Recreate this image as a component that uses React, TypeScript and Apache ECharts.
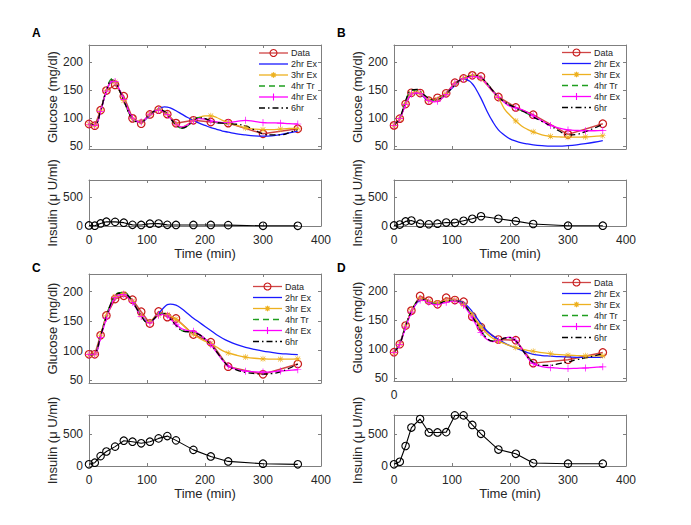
import React, { useEffect, useRef } from 'react';
import * as echarts from 'echarts';

const FONT = '"Liberation Sans", Arial, Helvetica, sans-serif';

// sample times (min)
const tData = [0, 10, 20, 30, 45, 60, 75, 90, 105, 120, 135, 150, 180, 210, 240, 300, 360];
const tModel = [0, 10, 20, 30, 40, 45, 50, 60, 70, 75, 80, 90, 100, 105, 110, 120, 130, 135, 140, 150, 160, 170, 180, 190, 200, 210, 220, 230, 240, 255, 270, 285, 300, 315, 330, 345, 360];
const markerTimes = [0, 10, 20, 30, 45, 60, 75, 90, 105, 120, 135, 150, 180, 210, 240, 270, 300, 330, 360];
const glucoseTicks = [50, 100, 150, 200];
const insulinTicks = [0, 500];
const legendNames = ['Data', '2hr Ex', '3hr Ex', '4hr Tr', '4hr Ex', '6hr'];

// Panel A
const gluA = [89.5, 86.5, 114, 149, 159, 139, 99.5, 90, 106.5, 115, 107, 91, 96, 93, 91, 72, 81];
const insA = [10, 5, 45, 75, 72, 58, 20, 18, 40, 42, 20, 18, 18, 18, 15, 3, 3];
const a2hr = [89, 87, 112, 148, 165, 164, 155, 132, 108, 100, 95, 93, 100, 105, 110, 117, 120, 119.5, 118, 113, 107, 101, 96, 91, 87, 83, 80, 77, 75, 72, 70, 68.5, 68, 68.5, 70.5, 73.5, 77];
const a3hr = [89, 87, 113, 149, 166, 164, 154, 131, 107, 99, 95, 93, 102, 107, 111, 115, 112, 107, 101, 89, 84, 89, 96, 101, 104, 104, 101, 96, 92, 87, 82.5, 80.5, 79.5, 79.5, 80.5, 81.5, 82];
const a4tr = [89, 88, 113, 150, 170, 167, 156, 131, 106, 98, 94, 93, 102, 107, 111, 115, 112, 107, 100, 88, 82, 86, 96, 101, 99, 95, 92, 91, 90];
const a4ex = [89, 87, 112, 148, 166, 165, 156, 133, 108, 100, 95, 93, 102, 107, 111, 114, 111, 106, 100, 89, 84, 88, 95, 99, 98, 95, 93, 92, 92, 94, 96, 94, 92, 91.5, 91, 90, 89.5];
const a6hr = [89, 88, 113, 150, 168, 165, 155, 131, 106, 98, 94, 93, 102, 107, 111, 115, 112, 107, 100, 88, 82, 86, 96, 101, 99, 95, 92, 91, 90, 89, 86, 79, 72, 70, 70, 74, 80];

// Panel B
const gluB = [87, 99, 125, 145, 144.5, 131, 136, 144, 163, 170.5, 176, 174, 137.5, 119, 106, 71, 90];
const insB = [10, 25, 80, 95, 40, 30, 40, 60, 55, 90, 125, 170, 125, 85, 35, 5, 5];
const b2hr = [87, 99, 126, 143, 145, 143, 139, 131, 131, 133, 136, 143, 153, 158, 164, 170, 166, 161, 154, 135, 113, 94, 79, 70, 63, 59, 56, 54, 52.5, 51, 50, 50, 51, 52.5, 54.5, 57, 60];
const b3hr = [87, 99, 126, 144, 146, 144, 140, 132, 131, 133, 136, 143, 155, 161, 165, 171, 175, 175.5, 175, 170, 159, 147, 136, 117, 105, 95, 86, 80, 75.5, 70, 67.5, 66.5, 66, 66, 66.5, 67.5, 68.5];
const b4tr = [87, 100, 130, 149, 150, 147, 142, 134, 131, 132, 134, 143, 154, 160, 165, 171, 175, 176, 176, 172, 162, 149, 137, 129, 123, 118, 113, 108, 102];
const b4ex = [87, 99, 124, 143, 145, 144, 140, 131, 129, 130, 133, 142, 156, 162, 166, 170, 173, 174, 174, 171, 160, 148, 137, 128, 121, 118, 115, 110, 104, 95, 87, 82, 79, 78, 77.5, 77.5, 78];
const b6hr = [87, 100, 131, 150, 151, 148, 143, 135, 132, 133, 135, 143, 154, 160, 165, 171, 175, 176, 176, 172, 162, 149, 137, 129, 123, 118, 113, 108, 102, 94, 86, 77, 70, 71, 76, 82, 89];

// Panel C
const gluC = [93.75, 93.75, 126, 159.7, 187.5, 193, 186.4, 166, 146, 166.5, 156.8, 154.5, 127.3, 114.2, 72.7, 59.7, 77.3];
const insC = [26, 52, 155, 227, 304, 397, 381, 356, 381, 433, 469, 402, 253, 150, 72, 36, 26];
const c2hr = [93, 94, 125, 160, 185, 192, 196, 197, 190, 184, 176, 160, 149, 148, 151, 163, 174, 178, 179, 177, 171, 163, 155, 148, 141, 134, 127, 121, 116, 110, 105.5, 102, 99, 97, 95, 94, 93];
const c3hr = [93, 94, 126, 160, 185, 192, 196, 197, 190, 184, 176, 160, 149, 149, 153, 160, 162, 161, 159, 153, 145, 136, 128, 121, 116, 112, 106, 100, 96, 92, 89, 87, 86, 85.5, 85.5, 85.5, 86];
const c4tr = [93, 95, 125, 158, 186, 194, 198, 199, 191, 184, 175, 159, 148, 148, 152, 161, 163, 160, 154, 143, 134, 132, 131, 127, 120, 110, 98, 85, 74];
const c4ex = [93, 94, 122, 155, 182, 190, 194, 195, 188, 182, 174, 158, 148, 147, 151, 160, 162, 159, 154, 145, 137, 134, 133, 128, 120, 110, 97, 84, 74, 68, 65, 64, 63.5, 64, 65.5, 66.5, 67.5];
const c6hr = [93, 95, 125, 158, 185, 193, 197, 198, 190, 183, 175, 159, 148, 148, 152, 161, 163, 160, 154, 143, 134, 132, 131, 127, 120, 110, 98, 85, 74, 67, 63, 61, 60, 61, 64, 70, 77];

// Panel D
const gluD = [94.8, 108.6, 140.8, 166.7, 192, 184, 177.6, 189, 185, 182, 156.3, 138, 116.7, 115.5, 75.9, 81.6, 94.3];
const insD = [26, 67, 314, 603, 737, 526, 526, 531, 794, 794, 644, 505, 258, 191, 46, 36, 36];
const d2hr = [94, 110, 140, 165, 181, 184, 185, 182, 179, 179, 180, 183, 185, 185, 184, 180, 171, 165, 158, 144, 132, 123, 117, 111, 106, 102, 98, 94, 91, 89, 88, 87, 86.5, 86, 86, 86, 86];
const d3hr = [94, 109, 140, 166, 184, 187, 186, 183, 180, 180, 181, 184, 185, 185, 183, 177, 166, 160, 153, 139, 127, 119, 114, 110, 106, 103, 100, 98, 96.5, 94, 92, 90.5, 89.5, 89, 88.5, 88.5, 88.5];
const d4tr = [94, 109, 140, 166, 183, 186, 186, 182, 179, 179, 180, 183, 184, 184, 183, 178, 165, 157, 148, 132, 119, 114, 115, 119, 120, 114, 101, 87, 77];
const d4ex = [94, 108, 138, 164, 182, 185, 185, 181, 177, 177, 178, 181, 183, 183, 182, 176, 162, 154, 145, 129, 117, 113, 115, 119, 121, 115, 101, 86, 75, 70, 68, 67, 66.5, 67, 67.5, 68.5, 69.5];
const d6hr = [94, 109, 140, 166, 183, 186, 186, 182, 179, 179, 180, 183, 184, 184, 183, 178, 165, 157, 148, 132, 119, 114, 115, 119, 120, 114, 101, 87, 77, 72, 72, 75, 78, 82, 85, 88.5, 92];

const ASTERISK = 'path://M0 9L20 9L20 11L0 11Z M9 0L11 0L11 20L9 20Z M1.5 2.9L2.9 1.5L18.5 17.1L17.1 18.5Z M17.1 1.5L18.5 2.9L2.9 18.5L1.5 17.1Z';
const PLUS = 'path://M9 0L11 0L11 9L20 9L20 11L11 11L11 20L9 20L9 11L0 11L0 9L9 9Z';

const AXIS = '#7f7f7f';
const TXT = '#262626';
const C_DATA_LINE = '#d04545';
const C_DATA_MARK = '#c81a1a';
const C_2HR = '#1a1aff';
const C_3HR = '#EDB120';
const C_4TR = '#1f9e1f';
const C_4EX = '#ff00ff';
const C_6HR = '#000000';
const DASH_4TR = [6, 4];
const DASH_6HR = [6, 3, 1.5, 3];

const panels = [
  { label: 'A', glu: gluA, ins: insA, m2: a2hr, m3: a3hr, m4tr: a4tr, m4ex: a4ex, m6: a6hr, left: 89, gTop: 45, gH: 104, iTop: 180, iH: 46, lgLeft: 259, lgTop: 53, lx: 32, ly: 33, zero: false },
  { label: 'B', glu: gluB, ins: insB, m2: b2hr, m3: b3hr, m4tr: b4tr, m4ex: b4ex, m6: b6hr, left: 394, gTop: 45, gH: 104, iTop: 180, iH: 46, lgLeft: 562, lgTop: 52.5, lx: 337, ly: 33, zero: false },
  { label: 'C', glu: gluC, ins: insC, m2: c2hr, m3: c3hr, m4tr: c4tr, m4ex: c4ex, m6: c6hr, left: 89, gTop: 274, gH: 109, iTop: 415, iH: 51, lgLeft: 253, lgTop: 286.5, lx: 32, ly: 268, zero: false },
  { label: 'D', glu: gluD, ins: insD, m2: d2hr, m3: d3hr, m4tr: d4tr, m4ex: d4ex, m6: d6hr, left: 394, gTop: 274, gH: 107, iTop: 415, iH: 51, lgLeft: 562, lgTop: 282.5, lx: 337, ly: 268, zero: true },
];

function legendGraphics(x0: number, y0: number) {
  const els: any[] = [];
  const styles = [
    { c: C_DATA_LINE, dash: null, mark: 'circle' },
    { c: C_2HR, dash: null, mark: '' },
    { c: C_3HR, dash: null, mark: 'asterisk' },
    { c: C_4TR, dash: DASH_4TR, mark: '' },
    { c: C_4EX, dash: null, mark: 'plus' },
    { c: C_6HR, dash: DASH_6HR, mark: '' },
  ];
  legendNames.forEach((name, i) => {
    const y = y0 + i * 11;
    const s = styles[i];
    const cx = x0 + 14.5;
    els.push({
      type: 'line', shape: { x1: x0, y1: y, x2: x0 + 29, y2: y },
      style: { stroke: s.c, lineWidth: 1.3, lineDash: s.dash || undefined }, z: 10,
    });
    if (s.mark === 'circle') {
      els.push({ type: 'circle', shape: { cx, cy: y, r: 3.5 }, style: { fill: 'transparent', stroke: C_DATA_MARK, lineWidth: 1.1 }, z: 11 });
    } else if (s.mark === 'asterisk') {
      const r = 2.8;
      [[r, 0], [0, r], [r * 0.7, r * 0.7], [r * 0.7, -r * 0.7]].forEach(([dx, dy]) => {
        els.push({ type: 'line', shape: { x1: cx - dx, y1: y - dy, x2: cx + dx, y2: y + dy }, style: { stroke: C_3HR, lineWidth: 1.2 }, z: 11 });
      });
    } else if (s.mark === 'plus') {
      const r = 3.5;
      els.push({ type: 'line', shape: { x1: cx, y1: y - r, x2: cx, y2: y + r }, style: { stroke: C_4EX, lineWidth: 1.1 }, z: 11 });
    }
    els.push({
      type: 'text', x: x0 + 32, y,
      style: { text: name, font: `9px ${FONT}`, fill: TXT, textVerticalAlign: 'middle', verticalAlign: 'middle' }, z: 11,
    });
  });
  return els;
}

function buildOption() {
  const grid: any[] = [];
  const xAxis: any[] = [];
  const yAxis: any[] = [];
  const series: any[] = [];
  const graphic: any[] = [];

  const baseX = (gi: number, pos: string, labels: any, extra: any = {}) => ({
    type: 'value', gridIndex: gi, position: pos, min: 0, max: 400, interval: 100,
    axisLine: { show: true, onZero: false, lineStyle: { color: AXIS, width: 1 } },
    axisTick: { show: true, inside: true, length: 3, lineStyle: { color: AXIS } },
    axisLabel: labels,
    splitLine: { show: false },
    ...extra,
  });
  const baseY = (gi: number, pos: string, min: number, max: number, ticks: number[], labels: any, extra: any = {}) => ({
    type: 'value', gridIndex: gi, position: pos, min, max,
    axisLine: { show: true, onZero: false, lineStyle: { color: AXIS, width: 1 } },
    axisTick: { show: true, inside: true, length: 3, customValues: ticks, lineStyle: { color: AXIS } },
    axisLabel: { ...labels, customValues: ticks },
    splitLine: { show: false },
    ...extra,
  });
  const lbl = { fontSize: 12, color: TXT, fontFamily: FONT };
  const yName = (name: string) => ({
    name, nameLocation: 'middle', nameGap: 28,
    nameTextStyle: { fontSize: 13, color: TXT, fontFamily: FONT },
  });

  panels.forEach((p, k) => {
    const gG = k * 2;
    const gI = k * 2 + 1;
    grid.push({ left: p.left, top: p.gTop, width: 232, height: p.gH });
    grid.push({ left: p.left, top: p.iTop, width: 232, height: p.iH });

    const gx = xAxis.length;
    xAxis.push(baseX(gG, 'bottom', p.zero
      ? { show: true, ...lbl, margin: 8, formatter: (v: number) => (v === 0 ? '0' : '') }
      : { show: false }));
    xAxis.push(baseX(gG, 'top', { show: false }));
    const gy = yAxis.length;
    yAxis.push(baseY(gG, 'left', 45, 230, glucoseTicks, { show: true, ...lbl, margin: 6 }, yName('Glucose (mg/dl)')));
    yAxis.push(baseY(gG, 'right', 45, 230, glucoseTicks, { show: false }));

    const ix = xAxis.length;
    xAxis.push(baseX(gI, 'bottom', { show: true, ...lbl, margin: 8 }, {
      name: 'Time (min)', nameLocation: 'middle', nameGap: 19,
      nameTextStyle: { fontSize: 13, color: TXT, fontFamily: FONT },
    }));
    xAxis.push(baseX(gI, 'top', { show: false }));
    const iy = yAxis.length;
    yAxis.push(baseY(gI, 'left', 0, 800, insulinTicks, { show: true, ...lbl, margin: 6 }, yName('Insulin (\u03BC U/ml)')));
    yAxis.push(baseY(gI, 'right', 0, 800, insulinTicks, { show: false }));

    const modelLine = (name: string, vals: number[], color: string, type: any, symbol?: string, size?: number) => ({
      type: 'line', name, xAxisIndex: gx, yAxisIndex: gy, smooth: 0.4,
      symbol: symbol || 'none', symbolSize: size || 6, showSymbol: !!symbol,
      lineStyle: { color, width: 1.3, type },
      itemStyle: { color },
      z: 3,
      data: vals.map((v, i) => {
        const t = tModel[i];
        if (symbol && markerTimes.indexOf(t) >= 0) return [t, v];
        return { value: [t, v], symbol: 'none' };
      }),
    });

    series.push({
      type: 'line', name: 'Data', xAxisIndex: gx, yAxisIndex: gy,
      symbol: 'circle', symbolSize: 7.5, showSymbol: true,
      lineStyle: { color: C_DATA_LINE, width: 1.5 },
      itemStyle: { color: 'transparent', borderColor: C_DATA_MARK, borderWidth: 1.2 },
      z: 2,
      data: tData.map((t, i) => [t, p.glu[i]]),
    });
    series.push(modelLine('2hr Ex', p.m2, C_2HR, 'solid'));
    series.push(modelLine('3hr Ex', p.m3, C_3HR, 'solid', ASTERISK, 6));
    series.push(modelLine('4hr Tr', p.m4tr, C_4TR, DASH_4TR));
    series.push(modelLine('4hr Ex', p.m4ex, C_4EX, 'solid', PLUS, 7));
    series.push(modelLine('6hr', p.m6, C_6HR, DASH_6HR));

    series.push({
      type: 'line', name: 'Insulin', xAxisIndex: ix, yAxisIndex: iy,
      symbol: 'circle', symbolSize: 7.5, showSymbol: true,
      lineStyle: { color: '#000000', width: 1.1 },
      itemStyle: { color: 'transparent', borderColor: '#000000', borderWidth: 1.1 },
      data: tData.map((t, i) => [t, p.ins[i]]),
    });

    graphic.push(...legendGraphics(p.lgLeft, p.lgTop));
    graphic.push({
      type: 'text', x: p.lx, y: p.ly,
      style: { text: p.label, font: `bold 12px ${FONT}`, fill: '#000', verticalAlign: 'middle', textVerticalAlign: 'middle' },
    });
  });

  return { animation: false, backgroundColor: '#ffffff', grid, xAxis, yAxis, series, graphic };
}

export default function App() {
  const ref = useRef<HTMLDivElement>(null);
  useEffect(() => {
    if (!ref.current) return;
    const chart = echarts.init(ref.current, undefined, { renderer: 'svg' });
    chart.setOption(buildOption() as any);
    return () => chart.dispose();
  }, []);
  return <div ref={ref} style={{ position: 'fixed', left: 0, top: 0, width: 691, height: 525, background: '#fff' }} />;
}
